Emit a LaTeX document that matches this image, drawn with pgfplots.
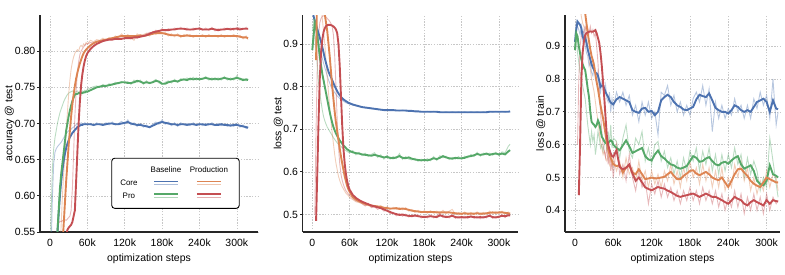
\documentclass[border=0pt]{standalone}
\usepackage{fontspec}
\setmainfont{Liberation Sans}
\usepackage{pgfplots}
\usepackage{pgfplotstable}
\pgfplotsset{compat=1.18}
\definecolor{cblue}{RGB}{76,114,176}
\definecolor{corange}{RGB}{221,132,82}
\definecolor{cgreen}{RGB}{85,168,104}
\definecolor{cred}{RGB}{196,78,82}

\pgfplotstableread{
x   bd    bl    gd    gl    od    ol    rd    rl
0   nan   0.45  nan   0.50  nan   nan   nan   nan
2   nan   0.53  nan   0.58  nan   nan   nan   nan
4   nan   0.60  nan   0.64  nan   nan   nan   nan
6   0.40  0.645 nan   0.665 nan   nan   nan   nan
8   0.45  0.66  0.40  0.68  nan   nan   nan   nan
10  0.50  0.665 0.48  0.69  nan   nan   nan   0.48
12  0.55  0.668 0.55  0.70  nan   nan   nan   0.54
14  0.575 0.670 0.58  0.708 nan   0.50  nan   0.562
16  0.60  0.672 0.61  0.715 0.45  0.52  nan   0.565
18  0.62  0.674 0.63  0.72  0.50  0.56  nan   0.564
20  0.635 0.677 0.645 0.725 0.53  0.60  nan   0.566
22  0.648 0.680 0.66  0.73  0.56  0.63  nan   0.565
24  0.658 0.683 0.675 0.734 0.59  0.66  0.50  0.567
26  0.666 0.686 0.69  0.737 0.62  0.69  0.545 0.566
28  0.672 0.688 0.70  0.74  0.645 0.715 0.553 0.568
30  0.677 0.69  0.71  0.742 0.67  0.74  0.556 0.57
32  0.681 0.691 0.718 0.743 0.69  0.76  0.558 0.572
34  0.684 0.692 0.725 0.744 0.71  0.775 0.56  0.58
36  0.687 0.694 0.731 0.745 0.727 0.785 0.564 0.61
38  0.689 0.695 0.736 0.744 0.74  0.792 0.572 0.66
40  0.691 0.697 0.740 0.743 0.752 0.797 0.58  0.71
42  0.693 0.698 0.741 0.744 0.762 0.80  0.62  0.745
44  0.695 0.699 0.741 0.745 0.77  0.802 0.66  0.77
46  0.696 0.700 0.742 0.743 0.777 0.80  0.70  0.785
48  0.697 0.699 0.742 0.744 0.783 0.806 0.73  0.795
50  0.698 0.701 0.742 0.743 0.788 0.808 0.753 0.80
52  0.698 0.700 0.742 0.745 0.793 0.806 0.768 0.803
54  0.699 0.699 0.743 0.744 0.797 0.81  0.779 0.806
56  0.699 0.701 0.743 0.746 0.80  0.808 0.787 0.808
58  0.699 0.700 0.744 0.745 0.802 0.812 0.793 0.81
60  0.699 0.698 0.744 0.747 0.804 0.81  0.797 0.81
65  0.699 0.700 0.746 0.749 0.808 0.815 0.803 0.812
70  0.698 0.697 0.748 0.751 0.811 0.813 0.807 0.811
75  0.699 0.701 0.750 0.752 0.813 0.816 0.810 0.814
80  0.699 0.698 0.751 0.750 0.814 0.815 0.812 0.813
85  0.698 0.699 0.752 0.754 0.815 0.818 0.814 0.816
90  0.699 0.701 0.752 0.751 0.816 0.815 0.815 0.815
95  0.700 0.698 0.753 0.755 0.817 0.819 0.816 0.817
100 0.700 0.702 0.754 0.753 0.818 0.817 0.816 0.816
105 0.699 0.698 0.755 0.757 0.819 0.821 0.817 0.818
110 0.699 0.700 0.756 0.755 0.820 0.819 0.817 0.816
115 0.700 0.703 0.757 0.758 0.821 0.824 0.817 0.818
120 0.701 0.699 0.757 0.756 0.821 0.819 0.818 0.817
125 0.702 0.705 0.756 0.758 0.821 0.823 0.818 0.819
130 0.700 0.698 0.756 0.754 0.821 0.818 0.818 0.817
135 0.699 0.701 0.757 0.760 0.821 0.815 0.819 0.820
140 0.698 0.696 0.759 0.757 0.821 0.824 0.819 0.818
145 0.698 0.700 0.758 0.760 0.822 0.820 0.820 0.822
150 0.697 0.695 0.756 0.754 0.821 0.823 0.821 0.820
155 0.696 0.698 0.757 0.759 0.822 0.825 0.822 0.824
160 0.695 0.694 0.756 0.755 0.823 0.821 0.824 0.826
165 0.697 0.699 0.757 0.758 0.824 0.827 0.826 0.825
170 0.699 0.702 0.759 0.761 0.825 0.823 0.827 0.829
175 0.701 0.699 0.758 0.756 0.825 0.828 0.828 0.827
180 0.702 0.705 0.755 0.754 0.825 0.824 0.829 0.831
185 0.701 0.699 0.755 0.757 0.824 0.826 0.829 0.828
190 0.700 0.702 0.757 0.759 0.823 0.821 0.829 0.831
195 0.699 0.697 0.758 0.756 0.822 0.824 0.830 0.829
200 0.699 0.701 0.759 0.761 0.822 0.820 0.830 0.832
205 0.698 0.696 0.758 0.757 0.822 0.824 0.831 0.830
210 0.699 0.701 0.760 0.762 0.821 0.819 0.831 0.833
215 0.699 0.698 0.761 0.760 0.821 0.823 0.831 0.830
220 0.698 0.700 0.760 0.763 0.822 0.820 0.830 0.832
225 0.699 0.697 0.762 0.760 0.821 0.823 0.830 0.829
230 0.699 0.701 0.761 0.764 0.821 0.819 0.830 0.832
235 0.698 0.698 0.762 0.760 0.821 0.822 0.831 0.830
240 0.699 0.700 0.761 0.763 0.821 0.820 0.831 0.833
245 0.699 0.697 0.762 0.761 0.821 0.823 0.830 0.829
250 0.698 0.700 0.763 0.765 0.821 0.819 0.830 0.832
255 0.699 0.698 0.762 0.760 0.821 0.823 0.830 0.829
260 0.699 0.701 0.761 0.763 0.821 0.820 0.831 0.833
265 0.698 0.697 0.762 0.760 0.821 0.822 0.830 0.828
270 0.698 0.700 0.761 0.763 0.821 0.819 0.829 0.831
275 0.699 0.697 0.762 0.760 0.821 0.823 0.830 0.829
280 0.698 0.699 0.763 0.765 0.821 0.819 0.830 0.832
285 0.698 0.696 0.762 0.760 0.821 0.822 0.831 0.830
290 0.697 0.699 0.761 0.763 0.821 0.820 0.830 0.832
295 0.698 0.696 0.762 0.760 0.821 0.823 0.831 0.829
300 0.698 0.700 0.763 0.766 0.821 0.819 0.831 0.833
305 0.697 0.695 0.762 0.760 0.820 0.822 0.830 0.832
310 0.696 0.698 0.760 0.762 0.819 0.817 0.831 0.830
315 0.695 0.693 0.761 0.759 0.819 0.821 0.831 0.833
318 0.694 0.696 0.760 0.762 0.818 0.816 0.831 0.830
}\tA

\pgfplotstableread{
x   bd    bl    gd    gl    od    ol    rd    rl
0   0.99  0.99  0.886 0.93  nan   nan   nan   nan
2   0.965 0.96  0.92  0.95  nan   nan   nan   nan
4   0.955 0.945 0.95  0.92  nan   nan   nan   0.50
6   0.945 0.93  0.94  0.88  0.862 nan   0.485 0.70
8   0.935 0.918 0.92  0.85  1.05  nan   0.60  0.85
10  0.925 0.905 0.895 0.81  1.10  1.05  0.72  0.92
12  0.915 0.893 0.87  0.785 1.10  1.03  0.82  0.95
14  0.905 0.88  0.85  0.765 1.08  1.00  0.88  0.96
16  0.893 0.867 0.83  0.745 1.05  0.96  0.91  0.965
18  0.88  0.855 0.815 0.73  1.01  0.93  0.928 0.966
20  0.867 0.845 0.80  0.72  0.97  0.90  0.937 0.965
22  0.855 0.835 0.785 0.712 0.95  0.86  0.942 0.963
24  0.845 0.825 0.77  0.705 0.93  0.82  0.944 0.96
26  0.835 0.816 0.755 0.70  0.90  0.785 0.945 0.957
28  0.828 0.808 0.74  0.695 0.87  0.75  0.945 0.953
30  0.822 0.80  0.727 0.69  0.835 0.72  0.944 0.948
32  0.815 0.795 0.715 0.685 0.80  0.69  0.943 0.94
34  0.808 0.79  0.705 0.68  0.77  0.665 0.941 0.92
36  0.801 0.786 0.697 0.676 0.74  0.64  0.938 0.87
38  0.795 0.782 0.69  0.672 0.715 0.62  0.934 0.80
40  0.789 0.778 0.684 0.668 0.695 0.605 0.925 0.72
42  0.784 0.775 0.679 0.665 0.675 0.59  0.90  0.66
44  0.780 0.772 0.674 0.662 0.655 0.58  0.85  0.62
46  0.776 0.770 0.670 0.66  0.637 0.572 0.78  0.595
48  0.773 0.768 0.666 0.657 0.62  0.565 0.71  0.58
50  0.770 0.766 0.662 0.655 0.605 0.56  0.655 0.57
52  0.768 0.764 0.659 0.652 0.59  0.555 0.62  0.562
54  0.766 0.762 0.656 0.65  0.578 0.55  0.595 0.556
56  0.764 0.761 0.653 0.648 0.567 0.547 0.578 0.552
58  0.762 0.760 0.651 0.646 0.559 0.544 0.566 0.548
60  0.761 0.759 0.649 0.645 0.553 0.54  0.558 0.545
65  0.758 0.757 0.646 0.650 0.541 0.535 0.546 0.538
70  0.756 0.755 0.644 0.640 0.535 0.53  0.539 0.532
75  0.754 0.753 0.643 0.646 0.531 0.528 0.534 0.53
80  0.752 0.752 0.641 0.638 0.528 0.526 0.530 0.525
85  0.751 0.750 0.640 0.644 0.525 0.522 0.527 0.52
90  0.750 0.750 0.639 0.636 0.523 0.521 0.524 0.526
95  0.749 0.748 0.638 0.641 0.521 0.518 0.521 0.516
100 0.748 0.748 0.640 0.645 0.520 0.52  0.519 0.518
105 0.747 0.746 0.638 0.634 0.519 0.516 0.517 0.512
110 0.746 0.746 0.636 0.640 0.518 0.521 0.515 0.516
115 0.745 0.745 0.634 0.630 0.516 0.513 0.512 0.508
120 0.745 0.744 0.635 0.639 0.515 0.518 0.509 0.51
125 0.745 0.746 0.633 0.630 0.514 0.511 0.506 0.502
130 0.745 0.744 0.632 0.636 0.514 0.517 0.503 0.505
135 0.744 0.745 0.634 0.631 0.515 0.512 0.501 0.497
140 0.744 0.743 0.637 0.643 0.513 0.516 0.499 0.502
145 0.744 0.745 0.633 0.629 0.514 0.511 0.500 0.496
150 0.744 0.743 0.632 0.636 0.513 0.516 0.498 0.501
155 0.743 0.744 0.634 0.630 0.511 0.508 0.497 0.494
160 0.743 0.742 0.631 0.628 0.509 0.512 0.496 0.499
165 0.742 0.743 0.629 0.632 0.508 0.505 0.498 0.495
170 0.742 0.741 0.628 0.625 0.507 0.510 0.496 0.499
175 0.741 0.742 0.627 0.630 0.506 0.504 0.495 0.492
180 0.741 0.740 0.628 0.626 0.506 0.509 0.494 0.497
185 0.741 0.742 0.627 0.631 0.506 0.503 0.495 0.492
190 0.741 0.740 0.629 0.626 0.506 0.509 0.496 0.499
195 0.741 0.742 0.632 0.636 0.506 0.503 0.495 0.492
200 0.741 0.740 0.630 0.627 0.505 0.508 0.494 0.497
205 0.740 0.741 0.633 0.638 0.505 0.502 0.498 0.503
210 0.740 0.739 0.637 0.633 0.505 0.510 0.496 0.493
215 0.740 0.741 0.634 0.637 0.505 0.502 0.494 0.497
220 0.740 0.739 0.632 0.629 0.505 0.508 0.495 0.492
225 0.740 0.741 0.631 0.634 0.504 0.512 0.497 0.500
230 0.740 0.739 0.633 0.630 0.503 0.500 0.494 0.491
235 0.740 0.741 0.632 0.636 0.502 0.505 0.493 0.496
240 0.740 0.739 0.632 0.629 0.502 0.499 0.494 0.491
245 0.740 0.741 0.633 0.637 0.503 0.506 0.493 0.496
250 0.740 0.739 0.636 0.633 0.502 0.499 0.494 0.491
255 0.740 0.741 0.637 0.641 0.502 0.505 0.495 0.498
260 0.740 0.739 0.639 0.636 0.502 0.499 0.494 0.491
265 0.740 0.741 0.642 0.646 0.503 0.506 0.493 0.496
270 0.740 0.739 0.640 0.637 0.502 0.499 0.494 0.490
275 0.740 0.741 0.641 0.644 0.502 0.505 0.493 0.496
280 0.740 0.739 0.643 0.640 0.503 0.500 0.495 0.492
285 0.741 0.742 0.640 0.644 0.504 0.508 0.497 0.501
290 0.741 0.740 0.642 0.639 0.505 0.502 0.494 0.491
295 0.741 0.742 0.643 0.646 0.504 0.507 0.493 0.496
300 0.741 0.740 0.641 0.638 0.505 0.502 0.495 0.492
305 0.741 0.742 0.643 0.647 0.505 0.508 0.497 0.500
310 0.741 0.740 0.641 0.645 0.504 0.501 0.496 0.493
315 0.741 0.742 0.648 0.660 0.503 0.506 0.498 0.501
318 0.742 0.741 0.651 0.665 0.502 0.500 0.498 0.497
}\tB

\pgfplotstableread{
x   bd    bl    gd    gl    od    ol    rd    rl
0   0.913 0.93  0.888 0.90  nan   nan   nan   nan
2   0.95  0.975 0.94  0.93  nan   nan   nan   nan
4   0.975 0.96  0.93  0.88  nan   nan   nan   0.60
6   0.97  0.95  0.90  0.85  1.05  1.05  0.446 0.80
8   0.965 0.935 0.878 0.82  1.08  1.02  0.60  0.90
10  0.955 0.96  0.86  0.80  1.06  0.99  0.80  0.93
12  0.93  0.92  0.845 0.78  1.04  0.97  0.88  0.945
14  0.92  0.95  0.835 0.76  1.02  0.96  0.915 0.94
16  0.928 0.90  0.827 0.74  1.00  0.955 0.934 0.96
18  0.91  0.88  0.80  0.70  0.97  0.93  0.94  0.95
20  0.89  0.87  0.77  0.66  0.94  0.90  0.942 0.955
22  0.875 0.84  0.745 0.63  0.915 0.86  0.944 0.94
24  0.86  0.85  0.70  0.60  0.89  0.83  0.945 0.96
26  0.845 0.82  0.67  0.64  0.87  0.80  0.944 0.94
28  0.835 0.81  0.664 0.61  0.857 0.78  0.944 0.95
30  0.827 0.84  0.66  0.63  0.84  0.76  0.946 0.93
32  0.82  0.80  0.654 0.57  0.815 0.73  0.949 0.94
34  0.817 0.79  0.66  0.60  0.79  0.70  0.939 0.90
36  0.81  0.82  0.674 0.64  0.77  0.67  0.925 0.85
38  0.795 0.78  0.665 0.62  0.745 0.64  0.91  0.78
40  0.776 0.76  0.645 0.59  0.72  0.61  0.88  0.70
42  0.78  0.79  0.624 0.60  0.70  0.59  0.84  0.64
44  0.781 0.77  0.618 0.58  0.68  0.57  0.79  0.60
46  0.77  0.745 0.61  0.60  0.655 0.58  0.74  0.58
48  0.76  0.78  0.605 0.62  0.63  0.56  0.68  0.56
50  0.752 0.74  0.603 0.58  0.605 0.55  0.624 0.60
52  0.745 0.73  0.606 0.64  0.585 0.57  0.60  0.54
54  0.735 0.76  0.61  0.60  0.57  0.54  0.585 0.58
56  0.728 0.70  0.613 0.66  0.56  0.56  0.573 0.52
58  0.725 0.74  0.61  0.59  0.55  0.53  0.565 0.55
60  0.723 0.71  0.60  0.62  0.54  0.56  0.563 0.50
65  0.738 0.76  0.59  0.61  0.535 0.52  0.583 0.60
70  0.745 0.73  0.583 0.56  0.537 0.55  0.532 0.51
75  0.74  0.76  0.598 0.62  0.515 0.50  0.525 0.54
80  0.735 0.72  0.613 0.66  0.53  0.56  0.53  0.49
85  0.73  0.75  0.595 0.58  0.537 0.51  0.54  0.57
90  0.705 0.69  0.575 0.56  0.515 0.53  0.512 0.50
95  0.70  0.72  0.58  0.62  0.51  0.49  0.49  0.46
100 0.697 0.67  0.585 0.60  0.525 0.55  0.50  0.52
105 0.71  0.73  0.59  0.64  0.51  0.49  0.485 0.47
110 0.712 0.69  0.565 0.55  0.495 0.52  0.47  0.49
115 0.70  0.73  0.555 0.59  0.497 0.47  0.465 0.42
120 0.703 0.68  0.552 0.54  0.50  0.52  0.461 0.48
125 0.69  0.70  0.57  0.60  0.497 0.48  0.466 0.45
130 0.70  0.63  0.582 0.61  0.498 0.51  0.471 0.49
135 0.735 0.76  0.565 0.55  0.50  0.47  0.468 0.44
140 0.745 0.75  0.558 0.58  0.502 0.52  0.466 0.48
145 0.752 0.78  0.548 0.53  0.51  0.49  0.46  0.44
150 0.745 0.72  0.54  0.56  0.517 0.54  0.456 0.47
155 0.73  0.75  0.537 0.51  0.505 0.48  0.45  0.43
160 0.72  0.70  0.53  0.55  0.495 0.52  0.444 0.46
165 0.715 0.73  0.527 0.50  0.495 0.47  0.441 0.42
170 0.707 0.69  0.53  0.56  0.505 0.53  0.444 0.46
175 0.705 0.72  0.535 0.52  0.512 0.49  0.446 0.43
180 0.71  0.69  0.55  0.58  0.52  0.55  0.449 0.47
185 0.715 0.74  0.565 0.55  0.522 0.50  0.451 0.43
190 0.738 0.76  0.56  0.59  0.512 0.53  0.446 0.46
195 0.752 0.73  0.548 0.52  0.507 0.48  0.441 0.42
200 0.748 0.78  0.55  0.58  0.512 0.54  0.446 0.47
205 0.745 0.72  0.558 0.54  0.517 0.49  0.451 0.43
210 0.756 0.77  0.562 0.59  0.51  0.53  0.446 0.46
215 0.735 0.64  0.55  0.52  0.50  0.47  0.441 0.42
220 0.712 0.73  0.54  0.57  0.495 0.52  0.441 0.46
225 0.705 0.68  0.537 0.51  0.492 0.47  0.436 0.41
230 0.70  0.72  0.545 0.57  0.50  0.53  0.431 0.45
235 0.70  0.68  0.548 0.52  0.485 0.46  0.425 0.40
240 0.695 0.71  0.542 0.57  0.471 0.50  0.42  0.44
245 0.705 0.69  0.552 0.53  0.49  0.47  0.43  0.41
250 0.72  0.74  0.56  0.59  0.51  0.54  0.441 0.46
255 0.715 0.70  0.565 0.54  0.525 0.50  0.435 0.41
260 0.705 0.72  0.54  0.57  0.527 0.55  0.431 0.45
265 0.70  0.68  0.527 0.50  0.515 0.49  0.42  0.39
270 0.705 0.72  0.532 0.56  0.505 0.53  0.415 0.44
275 0.70  0.68  0.537 0.51  0.49  0.46  0.425 0.40
280 0.715 0.74  0.52  0.55  0.481 0.50  0.431 0.45
285 0.73  0.71  0.49  0.52  0.475 0.45  0.425 0.40
290 0.735 0.76  0.48  0.46  0.471 0.49  0.42  0.44
295 0.74  0.72  0.476 0.50  0.485 0.46  0.415 0.39
300 0.73  0.75  0.49  0.47  0.50  0.52  0.431 0.45
305 0.70  0.68  0.537 0.62  0.495 0.47  0.42  0.40
310 0.735 0.80  0.51  0.55  0.49  0.51  0.431 0.44
315 0.71  0.66  0.505 0.48  0.485 0.50  0.428 0.42
318 0.708 0.70  0.50  0.44  0.485 0.46  0.427 0.43
}\tC

\pgfplotsset{
  panel/.style={
    scale only axis, anchor=south west,
    height=217bp,
    axis lines=left,
    axis line style={-, black!85, line width=1.2pt},
    tick align=outside,
    major tick length=2.5bp,
    tick style={black!85, line width=0.9pt},
    xtick style={draw=none},
    grid=major,
    major grid style={dash pattern=on 1.4pt off 1.4pt, black!22, line width=0.5pt},
    unbounded coords=jump,
    xtick={0,60,120,180,240,300},
    xticklabels={0,60k,120k,180k,240k,300k},
    tick label style={font=\fontsize{10.5}{12}\selectfont},
    label style={font=\fontsize{10.5}{12}\selectfont},
    xlabel={optimization steps},
    ylabel shift=-5bp,
    /pgf/number format/assume math mode=true,
    yticklabel style={/pgf/number format/fixed, /pgf/number format/fixed zerofill, inner xsep=2bp},
    xticklabel style={yshift=-1pt},
  },
  dk/.style={line width=1.9pt},
  lt/.style={line width=0.9pt, opacity=0.4},
}

\begin{document}
\begin{tikzpicture}
\useasboundingbox (0,0) rectangle (785bp,275bp);

\begin{axis}[panel, at={(40bp,43bp)}, width=218bp,
  xmin=-16, xmax=334, ymin=0.55, ymax=0.85,
  ytick={0.55,0.60,0.65,0.70,0.75,0.80},
  yticklabel style={/pgf/number format/precision=2},
  ylabel={accuracy @ test}]
\addplot[cblue, lt] table[x=x,y=bl] {\tA};
\addplot[cgreen, lt] table[x=x,y=gl] {\tA};
\addplot[corange, lt] table[x=x,y=ol] {\tA};
\addplot[cred, lt] table[x=x,y=rl] {\tA};
\addplot[cblue, dk] table[x=x,y=bd] {\tA};
\addplot[cgreen, dk] table[x=x,y=gd] {\tA};
\addplot[corange, dk] table[x=x,y=od] {\tA};
\addplot[cred, dk] table[x=x,y=rd] {\tA};
\draw[black, line width=0.9pt, rounded corners=3bp, fill=white]
  (rel axis cs:0.329,0.109) rectangle (rel axis cs:0.914,0.34);
\node[font=\fontsize{8}{9}\selectfont] at (rel axis cs:0.578,0.286) {Baseline};
\node[font=\fontsize{8}{9}\selectfont] at (rel axis cs:0.775,0.286) {Production};
\node[font=\fontsize{8}{9}\selectfont] at (rel axis cs:0.408,0.226) {Core};
\node[font=\fontsize{8}{9}\selectfont] at (rel axis cs:0.408,0.165) {Pro};
\draw[cblue, line width=1.6pt] (rel axis cs:0.523,0.233) -- (rel axis cs:0.633,0.233);
\draw[cblue, line width=1pt, opacity=0.45] (rel axis cs:0.523,0.218) -- (rel axis cs:0.633,0.218);
\draw[corange, line width=1.6pt] (rel axis cs:0.72,0.233) -- (rel axis cs:0.83,0.233);
\draw[corange, line width=1pt, opacity=0.45] (rel axis cs:0.72,0.218) -- (rel axis cs:0.83,0.218);
\draw[cgreen, line width=1.6pt] (rel axis cs:0.523,0.175) -- (rel axis cs:0.633,0.175);
\draw[cgreen, line width=1pt, opacity=0.45] (rel axis cs:0.523,0.160) -- (rel axis cs:0.633,0.160);
\draw[cred, line width=1.6pt] (rel axis cs:0.72,0.175) -- (rel axis cs:0.83,0.175);
\draw[cred, line width=1pt, opacity=0.45] (rel axis cs:0.72,0.160) -- (rel axis cs:0.83,0.160);
\end{axis}

\begin{axis}[panel, at={(302.7bp,43bp)}, width=215.5bp,
  xmin=-15.5, xmax=331, ymin=0.459, ymax=0.968,
  ytick={0.5,0.6,0.7,0.8,0.9},
  yticklabel style={/pgf/number format/precision=1},
  ylabel={loss @ test}]
\addplot[cblue, lt] table[x=x,y=bl] {\tB};
\addplot[cgreen, lt] table[x=x,y=gl] {\tB};
\addplot[corange, lt] table[x=x,y=ol] {\tB};
\addplot[cred, lt] table[x=x,y=rl] {\tB};
\addplot[cblue, dk] table[x=x,y=bd] {\tB};
\addplot[cgreen, dk] table[x=x,y=gd] {\tB};
\addplot[corange, dk] table[x=x,y=od] {\tB};
\addplot[cred, dk] table[x=x,y=rd] {\tB};
\end{axis}

\begin{axis}[panel, at={(565bp,43bp)}, width=215bp,
  xmin=-15.6, xmax=321, ymin=0.334, ymax=0.995,
  ytick={0.4,0.5,0.6,0.7,0.8,0.9},
  yticklabel style={/pgf/number format/precision=1},
  ylabel={loss @ train}]
\addplot[cblue, lt] table[x=x,y=bl] {\tC};
\addplot[cgreen, lt] table[x=x,y=gl] {\tC};
\addplot[corange, lt] table[x=x,y=ol] {\tC};
\addplot[cred, lt] table[x=x,y=rl] {\tC};
\addplot[cblue, dk] table[x=x,y=bd] {\tC};
\addplot[cgreen, dk] table[x=x,y=gd] {\tC};
\addplot[corange, dk] table[x=x,y=od] {\tC};
\addplot[cred, dk] table[x=x,y=rd] {\tC};
\end{axis}
\end{tikzpicture}
\end{document}
